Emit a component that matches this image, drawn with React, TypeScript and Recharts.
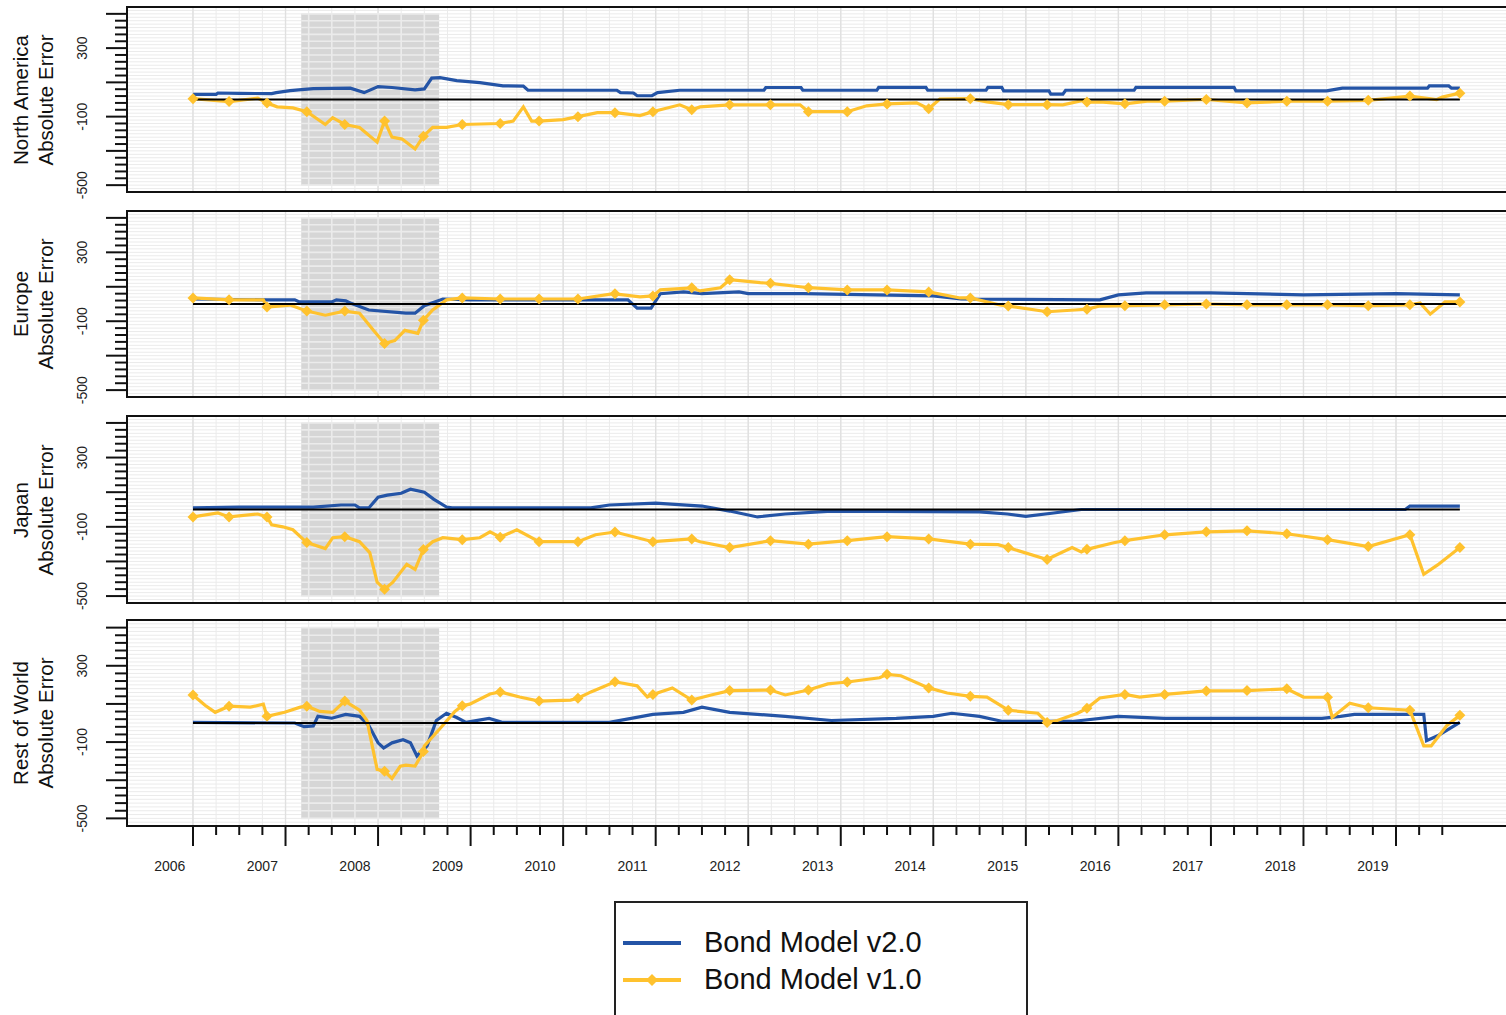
import React from 'react'
import { LineChart, Line, XAxis, YAxis, CartesianGrid, ReferenceArea, ReferenceLine } from 'recharts'

// [decimal year, error] pairs
const naV2 = [
  [2006.0, 30], [2006.25, 30], [2006.27, 38], [2006.5, 36], [2006.85, 34], [2006.9, 40], [2007.05, 52],
  [2007.3, 64], [2007.7, 66], [2007.85, 40], [2008.0, 75], [2008.15, 70], [2008.4, 56], [2008.5, 62],
  [2008.58, 125], [2008.67, 128], [2008.85, 110], [2009.1, 98], [2009.35, 80], [2009.57, 78], [2009.62, 54],
  [2010.58, 54], [2010.62, 40], [2010.76, 38], [2010.8, 22], [2010.96, 22], [2011.02, 40], [2011.26, 54],
  [2012.17, 54], [2012.19, 70], [2012.57, 70], [2012.59, 54], [2013.39, 54], [2013.41, 71], [2013.92, 71],
  [2013.94, 54], [2014.57, 54], [2014.59, 71], [2014.74, 71], [2014.76, 50], [2015.25, 50], [2015.27, 31],
  [2015.4, 31], [2015.43, 54], [2016.17, 54], [2016.19, 71], [2017.25, 71], [2017.27, 50], [2018.25, 50],
  [2018.42, 66], [2019.34, 66], [2019.36, 79], [2019.57, 79], [2019.6, 66], [2019.69, 66],
]
const naV1 = [
  [2006.0, 5], [2006.39, -12], [2006.7, 8], [2006.8, -20], [2006.91, -43], [2007.08, -49], [2007.23, -71],
  [2007.43, -146], [2007.51, -106], [2007.64, -146], [2007.8, -163], [2007.99, -249], [2008.07, -126],
  [2008.15, -220], [2008.26, -231], [2008.4, -289], [2008.49, -214], [2008.59, -163], [2008.74, -163],
  [2008.91, -146], [2009.32, -140], [2009.46, -126], [2009.57, -43], [2009.66, -126], [2009.74, -126],
  [2010.0, -117], [2010.16, -100], [2010.37, -77], [2010.56, -77], [2010.83, -94], [2010.97, -71],
  [2011.05, -60], [2011.26, -31], [2011.39, -60], [2011.48, -43], [2011.8, -31], [2012.24, -31],
  [2012.56, -31], [2012.65, -71], [2013.07, -71], [2013.28, -37], [2013.5, -26], [2013.82, -20],
  [2013.95, -54], [2014.07, 3], [2014.4, 5], [2014.58, -14], [2014.81, -30], [2015.23, -30], [2015.4, -31],
  [2015.64, -3], [2015.66, -15], [2015.8, -14], [2016.07, -25], [2016.31, -10], [2016.5, -10],
  [2016.95, 0], [2017.39, -20], [2017.82, -10], [2018.26, -10], [2018.7, -5], [2019.15, 20],
  [2019.44, 0], [2019.5, 14], [2019.69, 37],
]
const euV2 = [
  [2006.0, 29], [2006.8, 24], [2007.1, 24], [2007.15, 12], [2007.5, 12], [2007.55, 24], [2007.65, 18],
  [2007.7, 6], [2007.9, -35], [2008.3, -53], [2008.4, -53], [2008.5, -10], [2008.7, 29], [2009.0, 24],
  [2010.7, 24], [2010.8, -24], [2010.95, -24], [2011.05, 60], [2011.3, 70], [2011.5, 60], [2011.9, 70],
  [2012.0, 60], [2012.6, 60], [2014.0, 47], [2014.3, 29], [2015.8, 24], [2016.0, 53], [2016.3, 65],
  [2017.0, 65], [2018.0, 53], [2019.0, 60], [2019.69, 53],
]
const euV1 = [
  [2006.0, 35], [2006.39, 24], [2006.76, 24], [2006.8, -18], [2007.05, -6], [2007.23, -41], [2007.43, -65],
  [2007.64, -41], [2007.8, -53], [2007.95, -153], [2008.07, -229], [2008.18, -212], [2008.29, -153],
  [2008.43, -170], [2008.49, -94], [2008.59, -35], [2008.74, 24], [2008.91, 35], [2009.32, 29],
  [2009.74, 29], [2010.16, 29], [2010.53, 59], [2010.56, 59], [2010.83, 41], [2010.97, 47], [2011.05, 82],
  [2011.39, 94], [2011.48, 76], [2011.7, 94], [2011.8, 141], [2012.13, 124], [2012.24, 120],
  [2012.56, 100], [2012.65, 95], [2013.07, 82], [2013.5, 82], [2013.95, 70], [2014.29, 35], [2014.4, 35],
  [2014.72, -6], [2014.81, -12], [2015.23, -45], [2015.53, -35], [2015.66, -30], [2015.8, -12],
  [2016.07, -10], [2016.5, -5], [2016.95, 0], [2017.39, -5], [2017.82, -5], [2018.26, -5], [2018.7, -10],
  [2019.15, -5], [2019.26, 6], [2019.37, -59], [2019.53, 12], [2019.69, 12],
]
const jpV2 = [
  [2006.0, 9], [2006.5, 14], [2007.3, 14], [2007.6, 26], [2007.75, 26], [2007.8, 9], [2007.9, 9],
  [2008.0, 71], [2008.1, 83], [2008.25, 94], [2008.35, 117], [2008.5, 100], [2008.6, 60], [2008.74, 14],
  [2008.8, 9], [2010.3, 9], [2010.5, 26], [2011.0, 37], [2011.5, 20], [2011.8, -9], [2012.1, -43],
  [2012.4, -26], [2012.9, -9], [2014.5, -14], [2014.8, -26], [2015.0, -40], [2015.3, -20], [2015.6, 0],
  [2019.1, 0], [2019.15, 20], [2019.69, 20],
]
const jpV1 = [
  [2006.0, -43], [2006.27, -20], [2006.39, -43], [2006.7, -26], [2006.8, -43], [2006.85, -89],
  [2006.97, -100], [2007.08, -117], [2007.23, -191], [2007.43, -226], [2007.51, -163], [2007.64, -157],
  [2007.8, -186], [2007.91, -249], [2007.99, -420], [2008.07, -460], [2008.16, -420], [2008.31, -317],
  [2008.4, -346], [2008.49, -231], [2008.59, -186], [2008.7, -163], [2008.91, -174], [2009.1, -163],
  [2009.21, -129], [2009.32, -160], [2009.5, -117], [2009.74, -186], [2010.16, -186], [2010.35, -146],
  [2010.56, -130], [2010.97, -186], [2011.39, -170], [2011.48, -186], [2011.8, -220], [2012.24, -180],
  [2012.65, -200], [2013.07, -180], [2013.5, -157], [2013.95, -170], [2014.4, -200], [2014.7, -203],
  [2014.81, -220], [2015.23, -289], [2015.3, -270], [2015.5, -220], [2015.6, -245], [2015.66, -230],
  [2015.95, -192], [2016.07, -180], [2016.5, -146], [2016.95, -129], [2017.39, -123], [2017.82, -140],
  [2018.26, -174], [2018.7, -214], [2019.15, -146], [2019.3, -374], [2019.45, -320], [2019.69, -220],
]
const rowV2 = [
  [2006.0, 3], [2007.1, 0], [2007.2, -19], [2007.3, -15], [2007.35, 35], [2007.5, 25], [2007.65, 45],
  [2007.8, 35], [2007.9, -13], [2008.0, -104], [2008.06, -131], [2008.15, -104], [2008.27, -88],
  [2008.35, -104], [2008.42, -173], [2008.53, -120], [2008.63, 13], [2008.74, 51], [2008.85, 29],
  [2008.95, 3], [2009.2, 24], [2009.35, 3], [2010.5, 3], [2010.97, 45], [2011.3, 56], [2011.5, 83],
  [2011.8, 56], [2012.4, 35], [2012.9, 13], [2013.6, 24], [2014.0, 35], [2014.2, 51], [2014.5, 35],
  [2014.75, 8], [2015.5, 8], [2016.0, 35], [2016.5, 24], [2018.2, 24], [2018.4, 35], [2018.55, 45],
  [2019.3, 45], [2019.33, -93], [2019.45, -67], [2019.69, 3],
]
const rowV1 = [
  [2006.0, 147], [2006.13, 93], [2006.24, 56], [2006.39, 88], [2006.62, 83], [2006.76, 99], [2006.8, 35],
  [2006.99, 56], [2007.16, 83], [2007.23, 88], [2007.37, 61], [2007.51, 56], [2007.64, 115], [2007.8, 67],
  [2007.88, 13], [2007.99, -243], [2008.07, -253], [2008.15, -291], [2008.24, -227], [2008.3, -221],
  [2008.4, -226], [2008.49, -150], [2008.5, -120], [2008.67, -29], [2008.83, 61], [2008.91, 90],
  [2008.99, 99], [2009.21, 152], [2009.32, 163], [2009.53, 136], [2009.74, 115], [2010.08, 120],
  [2010.16, 130], [2010.3, 163], [2010.56, 216], [2010.8, 195], [2010.91, 136], [2010.97, 150],
  [2011.18, 184], [2011.39, 120], [2011.6, 147], [2011.8, 170], [2012.24, 173], [2012.4, 147],
  [2012.65, 173], [2012.86, 205], [2013.07, 215], [2013.42, 237], [2013.5, 255], [2013.65, 248],
  [2013.95, 184], [2014.15, 157], [2014.4, 140], [2014.58, 136], [2014.81, 67], [2015.13, 51],
  [2015.23, 3], [2015.34, 13], [2015.56, 51], [2015.66, 77], [2015.8, 131], [2016.07, 150],
  [2016.23, 136], [2016.5, 150], [2016.95, 168], [2017.39, 170], [2017.82, 179], [2018.0, 136],
  [2018.26, 135], [2018.31, 29], [2018.5, 104], [2018.7, 80], [2019.15, 67], [2019.3, -120],
  [2019.38, -120], [2019.55, -13], [2019.69, 40],
]

// dates where the v1.0 line carries a diamond
const v1Markers = [
  2006.0, 2006.39, 2006.8, 2007.23, 2007.64, 2008.07, 2008.49, 2008.91, 2009.32, 2009.74, 2010.16,
  2010.56, 2010.97, 2011.39, 2011.8, 2012.24, 2012.65, 2013.07, 2013.5, 2013.95, 2014.4, 2014.81,
  2015.23, 2015.66, 2016.07, 2016.5, 2016.95, 2017.39, 2017.82, 2018.26, 2018.7, 2019.15, 2019.69,
]

const recession = [2007.17, 2008.66]
const yLabels = [300, -100, -500]

const BLUE = '#2454a6'
const GOLD = '#ffc22e'
const FONT = '"Liberation Sans", Arial, sans-serif'

const W = 1535
const AXIS_X = 127
const X_DOMAIN = [2005.287, 2020.502]
const PX_PER_YEAR = (W - AXIS_X) / (X_DOMAIN[1] - X_DOMAIN[0])
const SHADE_Y = [-500, 500]

const yTicks: number[] = []
for (let v = -500; v <= 500; v += 40) yTicks.push(v)
const fineGrid: number[] = []
for (let v = -520; v <= 520; v += 20) fineGrid.push(v)
const xTicks: number[] = []
for (let q = 0; q <= 54; q++) xTicks.push(2006 + q / 4)
const yearTicks = xTicks.filter((t) => Number.isInteger(t))

const toPts = (arr: number[][]) => arr.map(([t, v]) => ({ t, v }))
const markerSet = new Set(v1Markers)

const panels = [
  { title: 'North America', v2: naV2, v1: naV1, top: 7, h: 185 },
  { title: 'Europe', v2: euV2, v1: euV1, top: 211, h: 186 },
  { title: 'Japan', v2: jpV2, v1: jpV1, top: 416, h: 187 },
  { title: 'Rest of World', v2: rowV2, v1: rowV1, top: 620, h: 206 },
]

function YTick(props: any) {
  const { x, y, payload } = props
  const v = payload.value
  const major = (v + 500) % 200 === 0
  const len = major ? 21 : 12
  return (
    <g>
      <line x1={x - len} x2={x} y1={y} y2={y} stroke="#111" strokeWidth={2} />
      {yLabels.includes(v) && (
        <text x={x - 45} y={y} transform={`rotate(-90 ${x - 45} ${y})`} textAnchor="middle"
          dominantBaseline="central" fontSize={14} fill="#222" fontFamily={FONT}>{v}</text>
      )}
    </g>
  )
}

function XTick(props: any) {
  const { x, y, payload } = props
  const t = payload.value
  const major = Math.abs(t - Math.round(t)) < 1e-6
  return (
    <g>
      <line x1={x} x2={x} y1={y} y2={y + (major ? 20 : 9)} stroke="#111" strokeWidth={2} />
      {major && (
        <text x={x - PX_PER_YEAR / 4} y={y + 40} textAnchor="middle" dominantBaseline="central"
          fontSize={14} fill="#222" fontFamily={FONT}>{Math.round(t)}</text>
      )}
    </g>
  )
}

// grey recession block with the lighter grid showing through it
function ShadeShape(props: any) {
  const { x, y, width, height } = props
  const lines: React.ReactNode[] = []
  yTicks.forEach((v) => {
    const py = y + ((SHADE_Y[1] - v) / (SHADE_Y[1] - SHADE_Y[0])) * height
    lines.push(<line key={`h${v}`} x1={x} x2={x + width} y1={py} y2={py} stroke="#ebebeb" strokeWidth={1.6} />)
  })
  xTicks.filter((t) => t > recession[0] && t < recession[1]).forEach((t) => {
    const px = x + ((t - recession[0]) / (recession[1] - recession[0])) * width
    lines.push(<line key={`v${t}`} x1={px} x2={px} y1={y} y2={y + height} stroke="#ebebeb" strokeWidth={1.6} />)
  })
  return (
    <g>
      <rect x={x} y={y} width={width} height={height} fill="#d6d6d6" />
      {lines}
    </g>
  )
}

function diamond(props: any) {
  const { cx, cy, payload, index } = props
  if (!markerSet.has(payload.t)) return <g key={`n${index}`} />
  const r = 5.5
  return <path key={`d${index}`} d={`M${cx},${cy - r}L${cx + r},${cy}L${cx},${cy + r}L${cx - r},${cy}Z`} fill={GOLD} />
}

function Panel({ p, last }: { p: any; last: boolean }) {
  const v2 = toPts(p.v2)
  const v1 = toPts(p.v1)
  const t0 = p.v2[0][0]
  const t1 = p.v2[p.v2.length - 1][0]
  const extra = 16
  return (
    <div style={{ position: 'absolute', left: 0, top: p.top }}>
      <LineChart width={W} height={p.h + extra + (last ? 60 : 0)} margin={{ top: 0, right: 0, bottom: extra, left: 0 }}>
        <XAxis type="number" dataKey="t" domain={X_DOMAIN} ticks={xTicks} interval={0} hide={!last}
          height={60} allowDataOverflow axisLine={false} tickLine={false} tickSize={0} tickMargin={0}
          tick={<XTick />} />
        <YAxis type="number" dataKey="v" domain={[-540, 540]} ticks={yTicks} interval={0} width={AXIS_X}
          allowDataOverflow axisLine={{ stroke: '#111', strokeWidth: 2 }} tickLine={false} tickSize={0}
          tickMargin={0} tick={<YTick />} />
        <CartesianGrid horizontalValues={fineGrid} verticalValues={xTicks} stroke="#ebebeb" strokeWidth={1} />
        <CartesianGrid horizontal={false} verticalValues={yearTicks} stroke="#e0e0e0" strokeWidth={1.4} />
        <ReferenceArea x1={recession[0]} x2={recession[1]} y1={SHADE_Y[0]} y2={SHADE_Y[1]}
          shape={<ShadeShape />} />
        <Line data={v2} dataKey="v" type="linear" stroke={BLUE} strokeWidth={3.2} dot={false} activeDot={false}
          isAnimationActive={false} />
        <Line data={v1} dataKey="v" type="linear" stroke={GOLD} strokeWidth={3.2} dot={diamond}
          activeDot={false} isAnimationActive={false} />
        <ReferenceLine segment={[{ x: t0, y: 0 }, { x: t1, y: 0 }]} stroke="#000" strokeWidth={1.8} />
      </LineChart>
      <div style={{ position: 'absolute', left: AXIS_X - 1, top: -1, width: W, height: p.h + 2,
        borderTop: '2px solid #111', borderBottom: '2px solid #111', boxSizing: 'border-box', pointerEvents: 'none' }} />
      <div style={{ position: 'absolute', left: 33, top: p.h / 2, transform: 'translate(-50%, -50%) rotate(-90deg)',
        fontFamily: FONT, fontSize: 20.5, lineHeight: '25px', textAlign: 'center', whiteSpace: 'nowrap', color: '#111' }}>
        {p.title}<br />Absolute Error
      </div>
    </div>
  )
}

export default function App() {
  return (
    <div style={{ position: 'absolute', left: 0, top: 0, width: 1506, height: 1015, overflow: 'hidden',
      background: '#fff', fontFamily: FONT }}>
      {panels.map((p, i) => <Panel key={p.title} p={p} last={i === panels.length - 1} />)}
      <div style={{ position: 'absolute', left: 614, top: 901, width: 414, height: 140, border: '2px solid #222',
        boxSizing: 'border-box' }}>
        <svg width={80} height={100} style={{ position: 'absolute', left: 0, top: 0 }}>
          <line x1={7} x2={65} y1={40} y2={40} stroke={BLUE} strokeWidth={4} />
          <line x1={7} x2={65} y1={77} y2={77} stroke={GOLD} strokeWidth={4} />
          <path d="M36,71L42,77L36,83L30,77Z" fill={GOLD} />
        </svg>
        <div style={{ position: 'absolute', left: 88, top: 21, fontSize: 29, lineHeight: '37px', color: '#111' }}>
          Bond Model v2.0<br />Bond Model v1.0
        </div>
      </div>
    </div>
  )
}
